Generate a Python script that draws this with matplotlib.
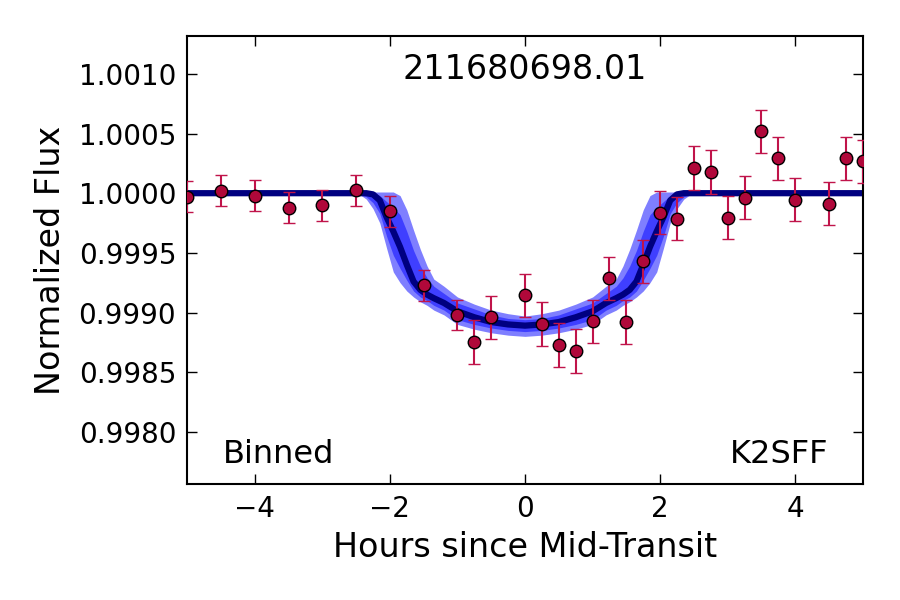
import matplotlib
matplotlib.use("Agg")
import matplotlib.pyplot as plt
from matplotlib.ticker import FormatStrFormatter
import numpy as np

# binned light curve (hours since mid-transit, normalized flux, 1-sigma error)
t_bin = [-5.0, -4.5, -4.0, -3.5, -3.0, -2.5, -2.0, -1.5, -1.0, -0.75, -0.5, 0.0,
         0.25, 0.5, 0.75, 1.0, 1.25, 1.5, 1.75, 2.0, 2.25, 2.5, 2.75, 3.0,
         3.25, 3.5, 3.75, 4.0, 4.5, 4.75, 5.0]
flux_bin = [0.99997, 1.000022, 0.999978, 0.99988, 0.999897, 1.000025, 0.999847,
            0.999228, 0.998978, 0.998753, 0.998961, 0.999144, 0.998903, 0.998728,
            0.998678, 0.998928, 0.999286, 0.99892, 0.999428, 0.999836, 0.999786,
            1.000211, 1.000178, 0.999794, 0.999961, 1.000519, 1.000294, 0.999944,
            0.999911, 1.000294, 1.000269]
err_bin = [0.000129, 0.000129, 0.000129, 0.000129, 0.000129, 0.000129, 0.000129,
           0.000129, 0.000128, 0.000181, 0.000181, 0.000181, 0.000181, 0.000181,
           0.000181, 0.000181, 0.000181, 0.000181, 0.000181, 0.000181, 0.000181,
           0.000181, 0.000181, 0.000181, 0.000181, 0.000181, 0.000181, 0.000181,
           0.000181, 0.000181, 0.000181]

# transit model: median and 1/2 sigma envelopes
t_mod = [-5.0, -2.45, -2.35, -2.25, -2.15, -2.05, -1.95, -1.85, -1.75, -1.65, -1.55,
         -1.45, -1.35, -1.2, -1.0, -0.75, -0.5, -0.25, 0.0, 0.25, 0.5, 0.75, 1.0,
         1.2, 1.35, 1.45, 1.55, 1.65, 1.75, 1.85, 1.95, 2.05, 2.15, 2.25, 2.35,
         2.45, 5.0]
f_med = [1.0, 1.0, 1.0, 0.99999, 0.99994, 0.99980, 0.99968, 0.99955, 0.99940,
         0.99926, 0.99919, 0.99915, 0.99912, 0.99908, 0.99901, 0.99896, 0.99892,
         0.99890, 0.99889, 0.99890, 0.99892, 0.99896, 0.99901, 0.99908, 0.99912,
         0.99915, 0.99919, 0.99926, 0.99940, 0.99955, 0.99968, 0.99980, 0.99994,
         0.99999, 1.0, 1.0, 1.0]
f_lo2 = [0.99999, 0.99999, 0.99995, 0.99987, 0.99975, 0.99954, 0.99934, 0.99925,
         0.99918, 0.99913, 0.99909, 0.99906, 0.99902, 0.99898, 0.99890, 0.99886,
         0.99883, 0.99881, 0.99880, 0.99881, 0.99883, 0.99886, 0.99890, 0.99898,
         0.99902, 0.99906, 0.99909, 0.99913, 0.99918, 0.99925, 0.99934, 0.99954,
         0.99975, 0.99987, 0.99995, 0.99999, 0.99999]
f_hi2 = [1.00001, 1.00001, 1.00001, 1.00001, 1.00001, 1.00001, 1.00001, 0.99998,
         0.99986, 0.99969, 0.99953, 0.99939, 0.99928, 0.99922, 0.99913, 0.99907,
         0.99902, 0.99899, 0.99897, 0.99899, 0.99902, 0.99907, 0.99913, 0.99922,
         0.99928, 0.99939, 0.99953, 0.99969, 0.99986, 0.99998, 1.00001, 1.00001,
         1.00001, 1.00001, 1.00001, 1.00001, 1.00001]
f_lo1 = [0.99999, 0.99999, 0.99997, 0.99992, 0.99983, 0.99964, 0.99948, 0.99937,
         0.99927, 0.99918, 0.99913, 0.99910, 0.99906, 0.99902, 0.99894, 0.99890,
         0.99887, 0.99885, 0.99884, 0.99885, 0.99887, 0.99890, 0.99894, 0.99902,
         0.99906, 0.99910, 0.99913, 0.99918, 0.99927, 0.99937, 0.99948, 0.99964,
         0.99983, 0.99992, 0.99997, 0.99999, 0.99999]
f_hi1 = [1.00001, 1.00001, 1.00001, 1.00001, 0.99998, 0.99993, 0.99988, 0.99982,
         0.99968, 0.99952, 0.99939, 0.99929, 0.99922, 0.99916, 0.99908, 0.99903,
         0.99898, 0.99895, 0.99894, 0.99895, 0.99898, 0.99903, 0.99908, 0.99916,
         0.99922, 0.99929, 0.99939, 0.99952, 0.99968, 0.99982, 0.99988, 0.99993,
         0.99998, 1.00001, 1.00001, 1.00001, 1.00001]

yticks = [0.9980, 0.9985, 0.9990, 0.9995, 1.0000, 1.0005, 1.0010]
xticks = [-4, -2, 0, 2, 4]

plt.rcParams['font.family'] = 'DejaVu Sans'
plt.rcParams['axes.linewidth'] = 1.5

fig = plt.figure(figsize=(9, 6), dpi=100)
ax = fig.add_axes([0.2081, 0.1928, 0.7505, 0.7477])

# model envelopes + median
ax.fill_between(t_mod, f_lo2, f_hi2, color='blue', alpha=0.5, lw=0)
ax.fill_between(t_mod, f_lo1, f_hi1, color='blue', alpha=0.5, lw=0)
ax.plot(t_mod, f_med, color='#000080', lw=4.5, solid_capstyle='round')

# binned data
ax.errorbar(t_bin, flux_bin, yerr=err_bin, fmt='o', color='#B0083A',
            ecolor='#C0144A', elinewidth=1.5, capsize=4, capthick=1.5,
            markersize=9, markeredgecolor='black', markeredgewidth=1, zorder=5)

ax.set_xlim(-5, 5)
ax.set_ylim(0.99756, 1.00132)
ax.set_xticks(xticks)
ax.set_yticks(yticks)
ax.yaxis.set_major_formatter(FormatStrFormatter('%.4f'))
ax.tick_params(direction='in', top=True, right=True, length=7, width=1,
               labelsize=20, pad=8)

ax.set_xlabel('Hours since Mid-Transit', fontsize=24, labelpad=5.5)
ax.set_ylabel('Normalized Flux', fontsize=24, labelpad=8)

ax.text(0.5, 0.925, '211680698.01', transform=ax.transAxes, ha='center',
        va='center', fontsize=24)
ax.text(0.053, 0.047, 'Binned', transform=ax.transAxes, ha='left',
        va='baseline', fontsize=23)
ax.text(0.949, 0.047, 'K2SFF', transform=ax.transAxes, ha='right',
        va='baseline', fontsize=23)

fig.savefig('out.png', dpi=100)
